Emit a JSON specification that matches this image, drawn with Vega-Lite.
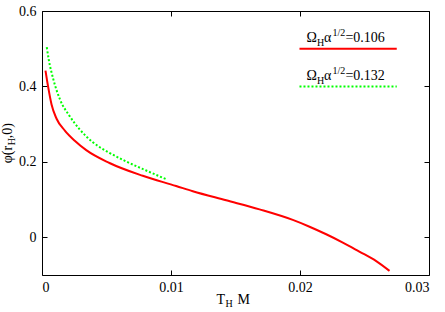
{
  "$schema": "https://vega.github.io/schema/vega-lite/v6.json",
  "autosize": "none",
  "width": 387,
  "height": 264,
  "padding": {"left": 42, "top": 11, "right": 16, "bottom": 37},
  "background": "white",
  "config": {
    "view": {"stroke": "black", "strokeWidth": 1},
    "font": "'Liberation Serif', 'DejaVu Serif', serif",
    "axis": {
      "grid": false,
      "domain": false,
      "tickColor": "black",
      "tickSize": -5,
      "labelFont": "'Liberation Serif', 'DejaVu Serif', serif",
      "labelFontSize": 14,
      "labelColor": "black",
      "format": "~g"
    },
    "text": {"font": "'Liberation Serif', 'DejaVu Serif', serif", "color": "black", "align": "left", "baseline": "alphabetic"}
  },
  "datasets": {
    "curves": [
      {"series": "a", "T": 0.00027, "phi": 0.442},
      {"series": "a", "T": 0.00048, "phi": 0.398},
      {"series": "a", "T": 0.00074, "phi": 0.352},
      {"series": "a", "T": 0.00112, "phi": 0.315},
      {"series": "a", "T": 0.00177, "phi": 0.283},
      {"series": "a", "T": 0.00254, "phi": 0.256},
      {"series": "a", "T": 0.00343, "phi": 0.231},
      {"series": "a", "T": 0.00523, "phi": 0.197},
      {"series": "a", "T": 0.00781, "phi": 0.163},
      {"series": "a", "T": 0.0104, "phi": 0.136},
      {"series": "a", "T": 0.01169, "phi": 0.122},
      {"series": "a", "T": 0.01428, "phi": 0.098},
      {"series": "a", "T": 0.01686, "phi": 0.074},
      {"series": "a", "T": 0.01944, "phi": 0.046},
      {"series": "a", "T": 0.02074, "phi": 0.028},
      {"series": "a", "T": 0.02203, "phi": 0.008},
      {"series": "a", "T": 0.02332, "phi": -0.014},
      {"series": "a", "T": 0.0246, "phi": -0.038},
      {"series": "a", "T": 0.02591, "phi": -0.063},
      {"series": "a", "T": 0.02694, "phi": -0.089},
      {"series": "b", "T": 0.00037, "phi": 0.504},
      {"series": "b", "T": 0.00053, "phi": 0.470},
      {"series": "b", "T": 0.00087, "phi": 0.420},
      {"series": "b", "T": 0.0014, "phi": 0.365},
      {"series": "b", "T": 0.00213, "phi": 0.322},
      {"series": "b", "T": 0.0029, "phi": 0.287},
      {"series": "b", "T": 0.00394, "phi": 0.252},
      {"series": "b", "T": 0.00523, "phi": 0.224},
      {"series": "b", "T": 0.00653, "phi": 0.201},
      {"series": "b", "T": 0.00808, "phi": 0.177},
      {"series": "b", "T": 0.00963, "phi": 0.154}
    ]
  },
  "resolve": {"axis": {"x": "independent", "y": "independent"}},
  "layer": [
    {
      "data": {"name": "curves"},
      "transform": [{"filter": "datum.series === 'a'"}],
      "mark": {"type": "line", "color": "#ff0000", "strokeWidth": 2, "clip": true, "interpolate": "monotone"},
      "encoding": {
        "x": {"field": "T", "type": "quantitative",
              "scale": {"domain": [0, 0.03], "nice": false, "zero": false},
              "axis": {"orient": "bottom", "values": [0, 0.01, 0.02, 0.03], "title": null, "labelPadding": 10}},
        "y": {"field": "phi", "type": "quantitative",
              "scale": {"domain": [-0.1, 0.6], "nice": false, "zero": false},
              "axis": {"orient": "left", "values": [0, 0.2, 0.4, 0.6], "title": null, "labelPadding": 11}}
      }
    },
    {
      "data": {"name": "curves"},
      "transform": [{"filter": "datum.series === 'b'"}],
      "mark": {"type": "line", "color": "#00ff00", "strokeWidth": 2, "strokeDash": [2, 2], "clip": true, "interpolate": "monotone"},
      "encoding": {
        "x": {"field": "T", "type": "quantitative",
              "axis": {"orient": "top", "values": [0, 0.01, 0.02, 0.03], "labels": false, "title": null}},
        "y": {"field": "phi", "type": "quantitative",
              "axis": {"orient": "right", "values": [0, 0.2, 0.4, 0.6], "labels": false, "title": null}}
      }
    },
    {
      "data": {"values": [{}]},
      "mark": {"type": "rule", "color": "#ff0000", "strokeWidth": 2},
      "encoding": {"x": {"datum": 0.01996, "axis": null}, "x2": {"datum": 0.0275}, "y": {"datum": 0.5, "axis": null}}
    },
    {
      "data": {"values": [{}]},
      "mark": {"type": "rule", "color": "#00ff00", "strokeWidth": 2, "strokeDash": [2, 2]},
      "encoding": {"x": {"datum": 0.01996, "axis": null}, "x2": {"datum": 0.0275}, "y": {"datum": 0.4, "axis": null}}
    },
    {"data": {"values": [{}]}, "mark": {"type": "text", "text": "Ω", "fontSize": 14}, "encoding": {"x": {"datum": 0.0205, "axis": null}, "y": {"datum": 0.517, "axis": null}}},
    {"data": {"values": [{}]}, "mark": {"type": "text", "text": "H", "fontSize": 10, "dx": 10.5, "dy": 3.5}, "encoding": {"x": {"datum": 0.0205, "axis": null}, "y": {"datum": 0.517, "axis": null}}},
    {"data": {"values": [{}]}, "mark": {"type": "text", "text": "α", "fontSize": 14, "dx": 17.5}, "encoding": {"x": {"datum": 0.0205, "axis": null}, "y": {"datum": 0.517, "axis": null}}},
    {"data": {"values": [{}]}, "mark": {"type": "text", "text": "1/2", "fontSize": 10, "dx": 26, "dy": -6}, "encoding": {"x": {"datum": 0.0205, "axis": null}, "y": {"datum": 0.517, "axis": null}}},
    {"data": {"values": [{}]}, "mark": {"type": "text", "text": "=0.106", "fontSize": 14, "dx": 39}, "encoding": {"x": {"datum": 0.0205, "axis": null}, "y": {"datum": 0.517, "axis": null}}},
    {"data": {"values": [{}]}, "mark": {"type": "text", "text": "Ω", "fontSize": 14}, "encoding": {"x": {"datum": 0.0205, "axis": null}, "y": {"datum": 0.416, "axis": null}}},
    {"data": {"values": [{}]}, "mark": {"type": "text", "text": "H", "fontSize": 10, "dx": 10.5, "dy": 3.5}, "encoding": {"x": {"datum": 0.0205, "axis": null}, "y": {"datum": 0.416, "axis": null}}},
    {"data": {"values": [{}]}, "mark": {"type": "text", "text": "α", "fontSize": 14, "dx": 17.5}, "encoding": {"x": {"datum": 0.0205, "axis": null}, "y": {"datum": 0.416, "axis": null}}},
    {"data": {"values": [{}]}, "mark": {"type": "text", "text": "1/2", "fontSize": 10, "dx": 26, "dy": -6}, "encoding": {"x": {"datum": 0.0205, "axis": null}, "y": {"datum": 0.416, "axis": null}}},
    {"data": {"values": [{}]}, "mark": {"type": "text", "text": "=0.132", "fontSize": 14, "dx": 39}, "encoding": {"x": {"datum": 0.0205, "axis": null}, "y": {"datum": 0.416, "axis": null}}},
    {"data": {"values": [{}]}, "mark": {"type": "text", "text": "T", "fontSize": 14}, "encoding": {"x": {"datum": 0.01353, "axis": null}, "y": {"datum": -0.176, "axis": null}}},
    {"data": {"values": [{}]}, "mark": {"type": "text", "text": "H", "fontSize": 10, "dx": 9, "dy": 3.5}, "encoding": {"x": {"datum": 0.01353, "axis": null}, "y": {"datum": -0.176, "axis": null}}},
    {"data": {"values": [{}]}, "mark": {"type": "text", "text": "M", "fontSize": 14, "dx": 21}, "encoding": {"x": {"datum": 0.01353, "axis": null}, "y": {"datum": -0.176, "axis": null}}},
    {"data": {"values": [{}]}, "mark": {"type": "text", "text": "φ(r", "fontSize": 14, "angle": 270}, "encoding": {"x": {"datum": -0.00236, "axis": null}, "y": {"datum": 0.196, "axis": null}}},
    {"data": {"values": [{}]}, "mark": {"type": "text", "text": "H", "fontSize": 10, "angle": 270, "dx": 18, "dy": 3.5}, "encoding": {"x": {"datum": -0.00236, "axis": null}, "y": {"datum": 0.196, "axis": null}}},
    {"data": {"values": [{}]}, "mark": {"type": "text", "text": ",0)", "fontSize": 14, "angle": 270, "dx": 25}, "encoding": {"x": {"datum": -0.00236, "axis": null}, "y": {"datum": 0.196, "axis": null}}}
  ]
}
